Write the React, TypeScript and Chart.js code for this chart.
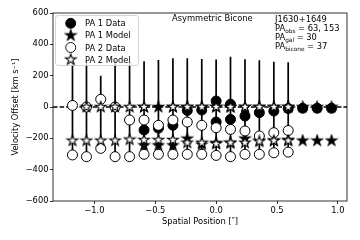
import React, { useEffect, useRef } from 'react';
import { Chart, registerables } from 'chart.js';

Chart.register(...registerables);

// Column positions along the slit (arcsec)
const positions = [-1.18, -1.065, -0.948, -0.83, -0.711, -0.592, -0.474, -0.355, -0.237, -0.118, 0.0, 0.118, 0.237, 0.355, 0.474, 0.592, 0.711, 0.83, 0.948];

// PA 2 (columns 0..15)
const pa2DataHigh = [10, 0, 49, 0, -83, -83, -117, -83, -96, -117, -132, -143, -153, -185, -164, -150];
const pa2DataLow = [-306, -317, -264, -317, -317, -302, -302, -302, -302, -302, -309, -317, -302, -302, -292, -288];
const pa2ModelHigh = [null, 0, 0, 0, 0, 0, null, 0, 0, 0, 0, 0, 0, 0, 0, 0];
const pa2ModelLow = [-215, -215, -215, -215, -208, -211, -211, -211, -228, -228, -235, -228, -228, -220, -215, -215];
const errTop = [300, 300, 200, 300, 290, 292, 300, 311, 311, 306, 303, 321, 305, 298, 289, 286];
const errBottom = [-306, -317, -294, -317, -317, -302, -302, -302, -302, -302, -309, -317, -302, -302, -292, -288];

// PA 1 (columns 5..18)
const pa1Start = 5;
const pa1DataMain = [-147, -135, -117, -22, -19, 38, 18, -58, -36, -26, -10, -8, -8, -8];
const pa1DataSecond = [null, null, null, null, null, -96, -79, null, null, null, null, null, null, null];
const pa1ModelHigh = [0, 0, 0, 0, 0, 0, 0, 0, 0, 0, 0, 0, 0, 0];
const pa1ModelLow = [-245, -245, -245, -202, -240, -230, -230, -202, -215, -215, -211, -215, -215, -215];

// Axes
const xMin = -1.34;
const xMax = 1.075;
const yMin = -600;
const yMax = 600;
const xTicks = [-1, -0.5, 0, 0.5, 1];
const yTicks = [-600, -400, -200, 0, 200, 400, 600];

const legendLabels = ['PA 1 Data', 'PA 1 Model', 'PA 2 Data', 'PA 2 Model'];
const titleText = 'Asymmetric Bicone';
const objectName = 'J1630+1649';
const paLines: [string, string, string][] = [
  ['PA', 'obs', ' = 63, 153'],
  ['PA', 'gal', ' = 30'],
  ['PA', 'bicone', ' = 37'],
];

const FONT = '"DejaVu Sans", sans-serif';
const FS = 8.33;

function pts(values: (number | null)[], offset: number) {
  const out: { x: number; y: number }[] = [];
  values.forEach((v, i) => {
    if (v !== null && v !== undefined) out.push({ x: positions[i + offset], y: v });
  });
  return out;
}

function makeStar(fill: string) {
  const c = document.createElement('canvas');
  c.width = 14;
  c.height = 14;
  const ctx = c.getContext('2d')!;
  ctx.beginPath();
  for (let k = 0; k < 10; k++) {
    const r = k % 2 === 0 ? 5.6 : 5.6 * 0.382;
    const a = -Math.PI / 2 + (k * Math.PI) / 5;
    ctx.lineTo(7 + r * Math.cos(a), 7 + r * Math.sin(a));
  }
  ctx.closePath();
  ctx.fillStyle = fill;
  ctx.fill();
  ctx.lineWidth = 1.1;
  ctx.strokeStyle = '#000';
  ctx.lineJoin = 'miter';
  ctx.stroke();
  return c;
}

const minus = (s: string) => s.replace('-', '\u2212');

export default function App() {
  const ref = useRef<HTMLCanvasElement>(null);

  useEffect(() => {
    if (!ref.current) return;
    const blackStar = makeStar('#000');
    const whiteStar = makeStar('#fff');

    const errData: { x: number; y: number | null }[] = [];
    errTop.forEach((t, i) => {
      errData.push({ x: positions[i], y: t });
      errData.push({ x: positions[i], y: errBottom[i] });
      errData.push({ x: positions[i], y: null });
    });

    const decor = {
      id: 'decor',
      afterDatasetsDraw(chart: any) {
        const { ctx, chartArea: a } = chart;
        ctx.save();
        ctx.strokeStyle = '#000';
        ctx.lineWidth = 0.8;
        ctx.strokeRect(a.left, a.top, a.right - a.left, a.bottom - a.top);
        ctx.restore();
      },
      afterDraw(chart: any) {
        const { ctx } = chart;
        ctx.save();
        // legend box
        const bx = 55.5, by = 15.5, bw = 83, bh = 50, r = 2.5;
        ctx.beginPath();
        ctx.moveTo(bx + r, by);
        ctx.lineTo(bx + bw - r, by);
        ctx.quadraticCurveTo(bx + bw, by, bx + bw, by + r);
        ctx.lineTo(bx + bw, by + bh - r);
        ctx.quadraticCurveTo(bx + bw, by + bh, bx + bw - r, by + bh);
        ctx.lineTo(bx + r, by + bh);
        ctx.quadraticCurveTo(bx, by + bh, bx, by + bh - r);
        ctx.lineTo(bx, by + r);
        ctx.quadraticCurveTo(bx, by, bx + r, by);
        ctx.closePath();
        ctx.fillStyle = 'rgba(255,255,255,0.8)';
        ctx.fill();
        ctx.strokeStyle = '#cccccc';
        ctx.lineWidth = 0.8;
        ctx.stroke();

        const ys = [23.3, 35.4, 47.5, 59.6];
        const mx = 70.7;
        ctx.font = `${FS}px ${FONT}`;
        ctx.fillStyle = '#000';
        ctx.textBaseline = 'alphabetic';
        ctx.textAlign = 'left';
        legendLabels.forEach((lab, i) => {
          const y = ys[i];
          if (i === 0 || i === 2) {
            ctx.beginPath();
            ctx.arc(mx, y, 5, 0, Math.PI * 2);
            ctx.fillStyle = i === 0 ? '#000' : '#fff';
            ctx.fill();
            ctx.lineWidth = 0.9;
            ctx.strokeStyle = '#000';
            ctx.stroke();
          } else {
            const img = i === 1 ? blackStar : whiteStar;
            ctx.drawImage(img, mx - 7, y - 7);
          }
          ctx.fillStyle = '#000';
          ctx.fillText(lab, 85, y + 3);
        });

        // annotations
        ctx.font = `${FS}px ${FONT}`;
        ctx.fillText(titleText, 172, 21.2);
        const tx = 275;
        ctx.fillText(objectName, tx, 21.5);
        const bases = [30.8, 40, 49.3];
        paLines.forEach((ln, i) => {
          let x = tx;
          const b = bases[i];
          ctx.font = `${FS}px ${FONT}`;
          ctx.fillText(ln[0], x, b);
          x += ctx.measureText(ln[0]).width;
          ctx.font = `5.8px ${FONT}`;
          ctx.fillText(ln[1], x, b + 1.8);
          x += ctx.measureText(ln[1]).width;
          ctx.font = `${FS}px ${FONT}`;
          ctx.fillText(ln[2], x, b);
        });
        ctx.restore();
      },
    };

    const circle = (fill: string) => ({
      pointStyle: 'circle' as const,
      pointRadius: 5,
      pointBorderWidth: 1,
      pointBorderColor: '#000',
      pointBackgroundColor: fill,
      showLine: false,
    });
    const star = (img: HTMLCanvasElement) => ({
      pointStyle: img as any,
      pointRadius: 5,
      showLine: false,
    });

    // Lower `order` is drawn on top.
    const chart = new Chart(ref.current, {
      type: 'scatter',
      data: {
        datasets: [
          { label: 'PA 2 Model', data: [...pts(pa2ModelHigh, 0), ...pts(pa2ModelLow, 0)], order: 1, ...star(whiteStar) },
          { label: 'PA 2 Data', data: [...pts(pa2DataHigh, 0), ...pts(pa2DataLow, 0)], order: 2, ...circle('#fff') },
          { label: 'PA 1 Model', data: [...pts(pa1ModelHigh, pa1Start), ...pts(pa1ModelLow, pa1Start)], order: 3, ...star(blackStar) },
          { label: 'PA 1 Data', data: [...pts(pa1DataMain, pa1Start), ...pts(pa1DataSecond, pa1Start)], order: 4, ...circle('#000') },
          {
            label: 'err',
            data: errData as any,
            order: 5,
            showLine: true,
            spanGaps: false,
            borderColor: '#000',
            borderWidth: 1.7,
            pointRadius: 0,
          },
          {
            label: 'zero',
            data: [{ x: xMin, y: 0 }, { x: xMax, y: 0 }],
            order: 6,
            showLine: true,
            borderColor: '#000',
            borderWidth: 1.3,
            borderDash: [4.6, 2],
            pointRadius: 0,
          },
        ],
      },
      options: {
        animation: false,
        responsive: false,
        devicePixelRatio: 1,
        layout: { padding: { top: 13, right: 13, left: 0, bottom: 0 } },
        plugins: { legend: { display: false }, tooltip: { enabled: false } },
        scales: {
          x: {
            type: 'linear',
            min: xMin,
            max: xMax,
            afterBuildTicks: (s: any) => {
              s.ticks = xTicks.map((v) => ({ value: v }));
            },
            afterFit: (s: any) => {
              s.height = 39;
            },
            border: { display: false },
            grid: { drawOnChartArea: false, drawTicks: true, tickLength: 3, tickColor: '#000', lineWidth: 0.8 },
            ticks: {
              padding: 1.5,
              maxRotation: 0,
              autoSkip: false,
              color: '#000',
              font: { family: FONT, size: FS },
              callback: (v: any) => minus(Number(v).toFixed(1)),
            },
            title: {
              display: true,
              text: 'Spatial Position [\u2033]',
              color: '#000',
              font: { family: FONT, size: FS },
              padding: { top: 0, bottom: 13 },
            },
          },
          y: {
            type: 'linear',
            min: yMin,
            max: yMax,
            afterBuildTicks: (s: any) => {
              s.ticks = yTicks.map((v) => ({ value: v }));
            },
            afterFit: (s: any) => {
              s.width = 53;
            },
            border: { display: false },
            grid: { drawOnChartArea: false, drawTicks: true, tickLength: 3, tickColor: '#000', lineWidth: 0.8 },
            ticks: {
              padding: 1.5,
              color: '#000',
              font: { family: FONT, size: FS },
              callback: (v: any) => minus(String(v)),
            },
            title: {
              display: true,
              text: 'Velocity Offset [km s\u207B\u00B9]',
              color: '#000',
              font: { family: FONT, size: FS },
              padding: { top: 11, bottom: 0 },
            },
          },
        },
      },
      plugins: [decor],
    });
    return () => chart.destroy();
  }, []);

  return (
    <div style={{ position: 'fixed', left: 0, top: 0, width: 360, height: 240, background: '#fff' }}>
      <canvas ref={ref} width={360} height={240} style={{ display: 'block' }} />
    </div>
  );
}
